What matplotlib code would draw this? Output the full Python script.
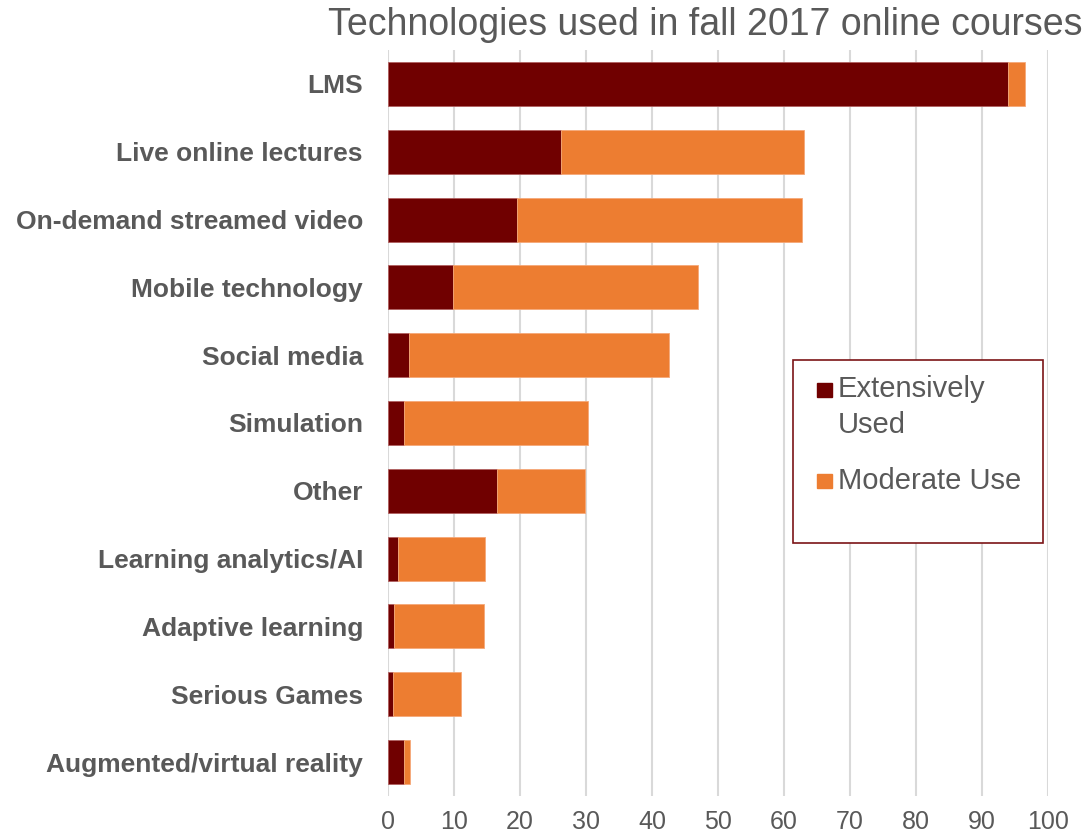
import matplotlib.pyplot as plt
import matplotlib.patches as patch

plt.rcParams['font.family'] = ['Liberation Sans', 'DejaVu Sans']

technologies = ['LMS', 'Live online lectures', 'On-demand streamed video',
                'Mobile technology', 'Social media', 'Simulation', 'Other',
                'Learning analytics/AI', 'Adaptive learning', 'Serious Games',
                'Augmented/virtual reality']
extensive = [94.0, 26.2, 19.5, 9.8, 3.2, 2.4, 16.5, 1.5, 0.9, 0.8, 2.4]
total = [96.5, 63.0, 62.7, 47.0, 42.6, 30.3, 29.8, 14.7, 14.5, 11.1, 3.3]
moderate = [t - e for t, e in zip(total, extensive)]
xticks = list(range(0, 101, 10))

dark = '#700000'
orange = '#ED7D31'
grey = '#595959'

W, H = 1089, 836
fig = plt.figure(figsize=(W / 100, H / 100), dpi=100)
ax = fig.add_axes([388 / W, 1 - 796 / H, 660 / W, 746 / H])

ypos = list(range(len(technologies)))
ax.barh(ypos, extensive, height=0.65, color=dark, edgecolor='#B06060',
        linewidth=0.6, zorder=3)
ax.barh(ypos, moderate, left=extensive, height=0.65, color=orange,
        edgecolor='#F5A878', linewidth=0.6, zorder=3)

ax.set_ylim(len(technologies) - 0.5, -0.5)
ax.set_xlim(0, 100)
ax.set_yticks(ypos)
ax.set_yticklabels(technologies, fontsize=19, fontweight='bold', color=grey)
ax.set_xticks(xticks)
ax.set_xticklabels([str(x) for x in xticks], fontsize=18, color=grey)
ax.tick_params(axis='y', length=0, pad=18)
ax.tick_params(axis='x', length=0, pad=10)
ax.grid(axis='x', color='#D9D9D9', linewidth=1.5, zorder=0)
for s in ax.spines.values():
    s.set_visible(False)

fig.text(1082 / W, 1 - 7 / H, 'Technologies used in fall 2017 online courses',
         ha='right', va='top', fontsize=27, color=grey)


# legend box drawn in figure pixels
def fx(x):
    return x / W


def fy(y):
    return 1 - y / H


fig.patches.append(patch.Rectangle((fx(793), fy(543)), fx(1043) - fx(793),
                                   fy(360) - fy(543), transform=fig.transFigure,
                                   facecolor='white', edgecolor='#7B1416',
                                   linewidth=1.2, zorder=5))
fig.patches.append(patch.Rectangle((fx(817), fy(397)), 15 / W, 14 / H,
                                   transform=fig.transFigure, color=dark,
                                   zorder=6))
fig.patches.append(patch.Rectangle((fx(817), fy(488)), 15 / W, 14 / H,
                                   transform=fig.transFigure, color=orange,
                                   zorder=6))
fig.text(fx(838), fy(375), 'Extensively\nUsed', ha='left', va='top',
         fontsize=21, color=grey, linespacing=1.35, zorder=7)
fig.text(fx(838), fy(481), 'Moderate Use', ha='left', va='center',
         fontsize=21, color=grey, zorder=7)

fig.savefig('out.png', dpi=100)
